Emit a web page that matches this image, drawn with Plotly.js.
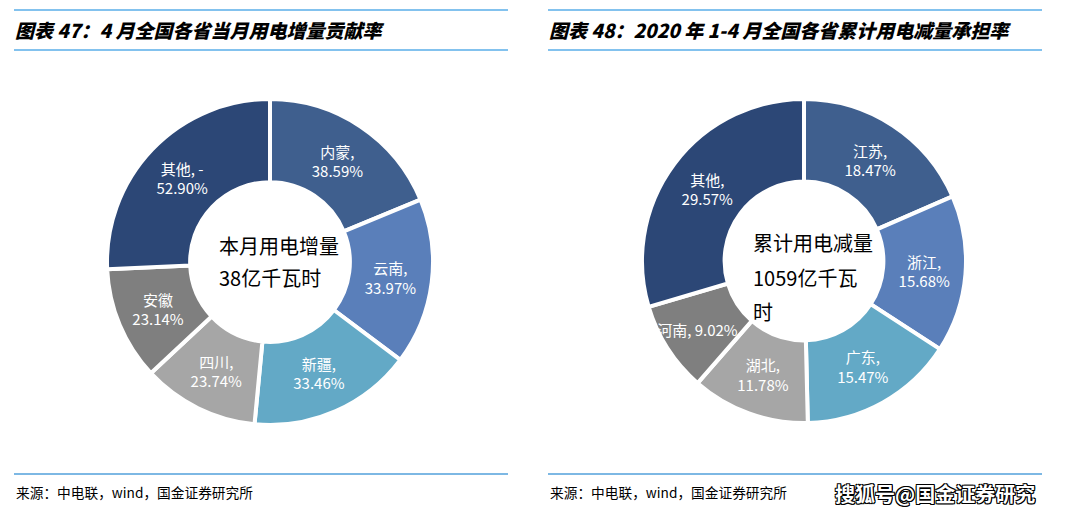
<!DOCTYPE html>
<html><head><meta charset="utf-8">
<script src="https://cdn.plot.ly/plotly-3.0.1.min.js"></script>
<style>html,body{margin:0;padding:0;background:#fff}#chart{width:1080px;height:517px}</style>
</head><body><div id="chart"></div>
<script>
// Left chart: April contribution to electricity increase (%)
const leftLabels = ["内蒙", "云南", "新疆", "四川", "安徽", "其他"];
const leftValues = [38.59, 33.97, 33.46, 23.74, 23.14, -52.90];
const leftSep = [",<br>", ",<br>", ",<br>", ",<br>", "<br>", ", -<br>"];
const leftCenter = ["本月用电增量", "38亿千瓦时"];
// Right chart: Jan-Apr share of cumulative decrease (%)
const rightLabels = ["江苏", "浙江", "广东", "湖北", "河南", "其他"];
const rightValues = [18.47, 15.68, 15.47, 11.78, 9.02, 29.57];
const rightSep = [",<br>", ",<br>", ",<br>", ",<br>", ", ", ",<br>"];
const rightCenter = ["累计用电减量", "1059亿千瓦", "时"];

const colors = ["#3F5F8E", "#5A7FBA", "#63A9C6", "#A6A6A6", "#7F7F7F", "#2C4776"];
const cjk = '"Noto Sans CJK SC", "Noto Sans", sans-serif';

function mkText(labels, values, sep) {
  return labels.map((l, i) => l + sep[i] + Math.abs(values[i]).toFixed(2) + "%");
}

const W = 1080, H = 517;
const px = x => x / W, py = y => 1 - y / H;

function pieTrace(labels, values, sep, dom) {
  return {
    type: "pie", hole: 0.49, sort: false, direction: "clockwise", rotation: 0,
    labels: labels, values: values.map(Math.abs),
    text: mkText(labels, values, sep),
    textinfo: "text", textposition: "inside", insidetextorientation: "horizontal",
    textfont: {family: cjk, size: 15, color: "#fff"},
    marker: {colors: colors, line: {color: "#fff", width: 4}},
    domain: dom, showlegend: false, hoverinfo: "label+value"
  };
}
const traceL = pieTrace(leftLabels, leftValues, leftSep, {x: [px(107), px(433)], y: [py(425), py(99)]});
const traceR = pieTrace(rightLabels, rightValues, rightSep, {x: [px(642), px(966)], y: [py(424), py(98)]});

const lineColor = "#5AAEE8";
const shapes = [];
[[14, 508], [548, 1042]].forEach(([a, b]) => {
  [10, 50].forEach(y => shapes.push({type: "line", xref: "paper", yref: "paper",
    x0: px(a), x1: px(b), y0: py(y), y1: py(y), line: {color: lineColor, width: 1.5}}));
  shapes.push({type: "line", xref: "paper", yref: "paper",
    x0: px(a), x1: px(b), y0: py(474), y1: py(474), line: {color: "#7DB8E4", width: 2}});
});

const ann = (x, y, text, font, extra) => Object.assign({xref: "paper", yref: "paper",
  x: px(x), y: py(y), text: text, showarrow: false, xanchor: "left", yanchor: "middle",
  font: font}, extra || {});

const titleFont = {family: cjk, size: 19, color: "#000", weight: 900, style: "italic"};
const annotations = [
  ann(13, 30, "图表 47：4 月全国各省当月用电增量贡献率", titleFont),
  ann(547, 30, "图表 48：2020 年 1-4 月全国各省累计用电减量承担率", titleFont),
  ann(14, 492, "来源：中电联，wind，国金证券研究所", {family: cjk, size: 13.7, color: "#000"}),
  ann(548, 492, "来源：中电联，wind，国金证券研究所", {family: cjk, size: 13.7, color: "#000"}),
  ann(833, 493, "搜狐号@国金证券研究", {family: cjk, size: 20, color: "#fff", weight: 700,
    shadow: "1px 1px 0 #000, -1px -1px 0 #000, 1px -1px 0 #000, -1px 1px 0 #000, 0 1px 0 #000, 1px 0 0 #000"})
];
leftCenter.forEach((t, i) => annotations.push(
  ann(217, 245 + i * 32, t, {family: cjk, size: 20, color: "#000"})));
rightCenter.forEach((t, i) => annotations.push(
  ann(751, 243 + i * 34, t, {family: cjk, size: 20, color: "#000"})));

Plotly.newPlot("chart", [traceL, traceR], {
  width: W, height: H, margin: {l: 0, r: 0, t: 0, b: 0},
  paper_bgcolor: "#fff", plot_bgcolor: "#fff",
  uniformtext: {minsize: 15, mode: "show"},
  shapes: shapes, annotations: annotations
}, {staticPlot: true});
</script></body></html>
